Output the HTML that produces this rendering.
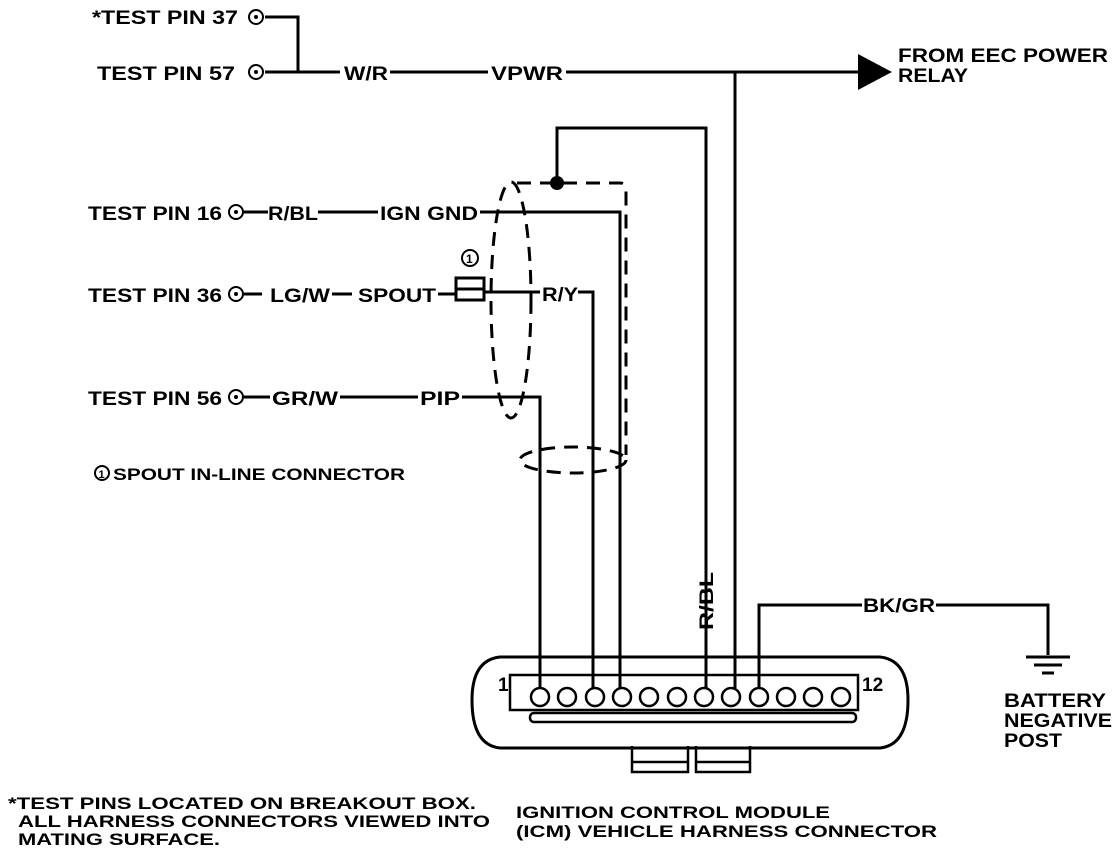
<!DOCTYPE html>
<html><head><style>
body{margin:0;background:#fff}
svg{display:block}
text{font-family:"Liberation Sans",Arial,sans-serif;font-weight:bold;fill:#000}
</style></head><body>
<svg width="1120" height="864" viewBox="0 0 1120 864" xmlns="http://www.w3.org/2000/svg">
<g stroke="#000" stroke-width="3" fill="none">
<path d="M265 17 H298 V72 M265 72 H340 M390 72 H488 M566 72 H860"/>
<path d="M735 72 V688"/>
<path d="M557 183 V128 H706 V688"/>
<path d="M244 212 H268 M318 212 H378 M480 212 H620 V688"/>
<path d="M244 294 H262 M332 294 H352 M438 294 H455 M485 292 H540 M578 292 H593 V688"/>
<rect x="456" y="278" width="28" height="22" stroke-width="3"/>
<line x1="456" y1="289" x2="484" y2="289"/>
<path d="M244 397 H270 M340 397 H418 M462 397 H540 V688"/>
<path d="M759 688 V605 H862 M936 605 H1048 V655"/>
<path d="M1026 657 H1070 M1034 665 H1062 M1042 673 H1054"/>
<g stroke-dasharray="14 9">
<path d="M517 183 H620 Q626 183 626 190 V455"/>
<ellipse cx="511" cy="300" rx="20" ry="118"/>
<ellipse cx="573" cy="460" rx="53" ry="13"/>
</g>
<path d="M500 657 H880 Q908 660 908 700 Q908 745 880 748 H500 Q472 745 472 700 Q472 660 500 657 Z"/>
<path d="M510 675 H858 V710 H510 Z" stroke-width="2.5"/>
<rect x="530" y="713" width="326" height="9" rx="4" stroke-width="2.5"/>
<path d="M632 746 V772 H688 V746 M696 746 V772 H750 V746 M632 762 H688 M696 762 H750" stroke-width="2.5"/>
<g stroke-width="2.5">
<circle cx="540" cy="697" r="9"/><circle cx="567" cy="697" r="9"/><circle cx="595" cy="697" r="9"/><circle cx="622" cy="697" r="9"/>
<circle cx="649" cy="697" r="9"/><circle cx="677" cy="697" r="9"/><circle cx="704" cy="697" r="9"/><circle cx="731" cy="697" r="9"/>
<circle cx="759" cy="697" r="9"/><circle cx="786" cy="697" r="9"/><circle cx="813" cy="697" r="9"/><circle cx="841" cy="697" r="9"/>
</g>
<g stroke-width="2">
<circle cx="256" cy="17" r="7"/><circle cx="256" cy="72" r="7"/><circle cx="236" cy="212" r="7"/><circle cx="236" cy="294" r="7"/><circle cx="236" cy="397" r="7"/>
<circle cx="470" cy="258" r="8"/><circle cx="102" cy="473" r="7"/>
</g>
</g>
<g fill="#000">
<circle cx="557" cy="183" r="7"/>
<circle cx="256" cy="17" r="2"/><circle cx="256" cy="72" r="2"/><circle cx="236" cy="212" r="2"/><circle cx="236" cy="294" r="2"/><circle cx="236" cy="397" r="2"/>
<polygon points="858,54 892,72 858,90"/>
</g>
<g font-size="19" lengthAdjust="spacingAndGlyphs">
<text x="92" y="24" textLength="146" lengthAdjust="spacingAndGlyphs">*TEST PIN 37</text>
<text x="97" y="80" textLength="138" lengthAdjust="spacingAndGlyphs">TEST PIN 57</text>
<text x="344" y="80" textLength="44" lengthAdjust="spacingAndGlyphs">W/R</text>
<text x="491" y="80" textLength="72" lengthAdjust="spacingAndGlyphs">VPWR</text>
<text x="898" y="62" textLength="210" lengthAdjust="spacingAndGlyphs">FROM EEC POWER</text>
<text x="898" y="82" textLength="70" lengthAdjust="spacingAndGlyphs">RELAY</text>
<text x="88" y="220" textLength="134" lengthAdjust="spacingAndGlyphs">TEST PIN 16</text>
<text x="268" y="220" textLength="50" lengthAdjust="spacingAndGlyphs">R/BL</text>
<text x="380" y="220" textLength="98" lengthAdjust="spacingAndGlyphs">IGN GND</text>
<text x="88" y="302" textLength="134" lengthAdjust="spacingAndGlyphs">TEST PIN 36</text>
<text x="270" y="302" textLength="60" lengthAdjust="spacingAndGlyphs">LG/W</text>
<text x="358" y="302" textLength="78" lengthAdjust="spacingAndGlyphs">SPOUT</text>
<text x="542" y="301" textLength="36" lengthAdjust="spacingAndGlyphs">R/Y</text>
<text x="88" y="405" textLength="134" lengthAdjust="spacingAndGlyphs">TEST PIN 56</text>
<text x="272" y="405" textLength="66" lengthAdjust="spacingAndGlyphs">GR/W</text>
<text x="420" y="405" textLength="40" lengthAdjust="spacingAndGlyphs">PIP</text>
<text x="863" y="612" textLength="72" lengthAdjust="spacingAndGlyphs">BK/GR</text>
<text transform="translate(713 630) rotate(-90)" textLength="58" lengthAdjust="spacingAndGlyphs">R/BL</text>
<text x="1004" y="707" textLength="102" lengthAdjust="spacingAndGlyphs">BATTERY</text>
<text x="1004" y="727" textLength="108" lengthAdjust="spacingAndGlyphs">NEGATIVE</text>
<text x="1004" y="747" textLength="58" lengthAdjust="spacingAndGlyphs">POST</text>
<text x="498" y="691">1</text>
<text x="862" y="691">12</text>
</g>
<g font-size="17">
<text x="466" y="263" font-size="12">1</text>
<text x="98.5" y="478" font-size="11">1</text>
<text x="113" y="480" textLength="292" lengthAdjust="spacingAndGlyphs">SPOUT IN-LINE CONNECTOR</text>
<text x="8" y="809" textLength="468" lengthAdjust="spacingAndGlyphs">*TEST PINS LOCATED ON BREAKOUT BOX.</text>
<text x="18" y="827" textLength="472" lengthAdjust="spacingAndGlyphs">ALL HARNESS CONNECTORS VIEWED INTO</text>
<text x="18" y="845" textLength="202" lengthAdjust="spacingAndGlyphs">MATING SURFACE.</text>
<text x="516" y="818" textLength="314" lengthAdjust="spacingAndGlyphs">IGNITION CONTROL MODULE</text>
<text x="516" y="837" textLength="421" lengthAdjust="spacingAndGlyphs">(ICM) VEHICLE HARNESS CONNECTOR</text>
</g>
</svg>
</body></html>
